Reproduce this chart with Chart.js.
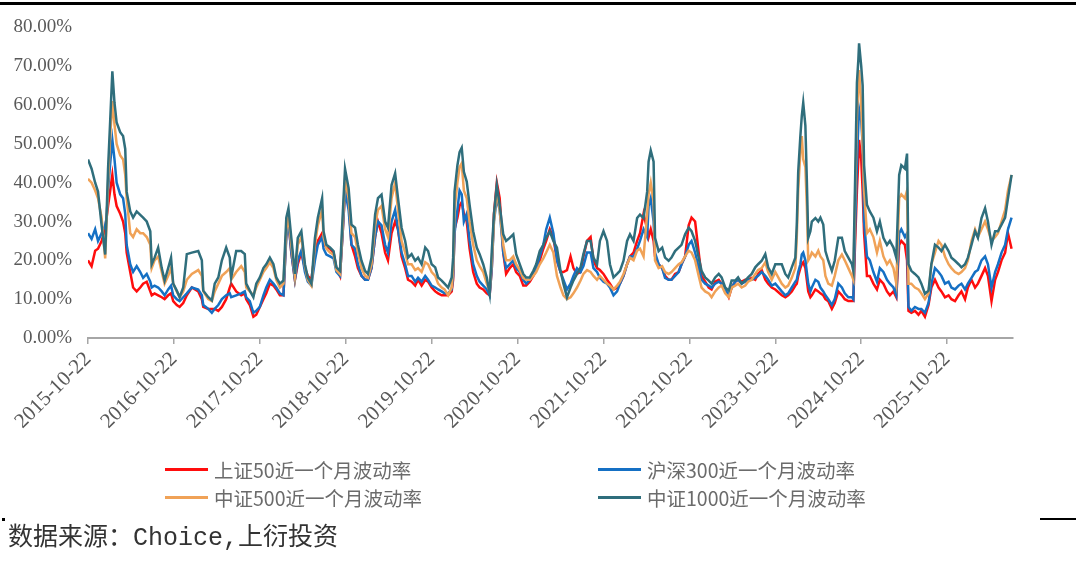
<!DOCTYPE html>
<html>
<head>
<meta charset="utf-8">
<script src="https://cdn.jsdelivr.net/npm/chart.js@4.4.0/dist/chart.umd.min.js"></script>
<style>
  html, body { margin: 0; padding: 0; background: #fff; }
  #wrap { position: relative; width: 1080px; height: 570px; overflow: hidden; }
  #myChart { position: absolute; left: 0; top: 0; }
  .topline { position: absolute; left: 0; top: 2px; width: 1076px; height: 3px; background: #000; }
  .dot { position: absolute; left: 2px; top: 518px; width: 3px; height: 3px; background: #000; }
  .endline { position: absolute; left: 1040px; top: 518px; width: 36px; height: 2px; background: #000; }
  #legend { position: absolute; left: 165px; top: 455px; width: 800px; }
  .item { position: absolute; height: 28px; display: flex; align-items: center; white-space: nowrap;
          font-family: "Noto Sans CJK SC", "Noto Sans", sans-serif; font-size: 19.5px; color: #6b6b6b; }
  .item span.swatch { display: inline-block; width: 43px; height: 3px; margin-right: 6px; }
  #source { position: absolute; left: 8px; top: 524px; font-family: "Liberation Mono", "Noto Sans CJK SC", monospace;
            font-size: 25px; color: #333; line-height: 30px; }
</style>
</head>
<body>
<div id="wrap">
  <div class="topline"></div>
  <canvas id="myChart" width="1080" height="570"></canvas>
  <div id="legend"></div>
  <div class="dot"></div>
  <div class="endline"></div>
  <div id="source">数据来源：Choice,上衍投资</div>
</div>
<script>
// months since 2015-10-22
var months = [
  0,0.5,1,1.4,1.9,2.4,2.6,2.8,3.1,3.4,3.7,4,4.5,4.9,5.2,5.4,5.9,6.3,6.8,7.3,7.7,8.2,8.7,8.9,9.3,9.8,10.3,10.7,11.2,11.6,
  11.9,12.4,12.8,13.3,13.8,14.5,15.4,15.9,16.1,16.8,17.3,17.7,18.2,18.7,19.3,19.8,20,20.7,21.4,21.9,22.1,22.6,23.1,23.5,24,
  24.5,24.9,25.4,25.9,26.3,26.8,27.3,27.7,28,28.4,28.9,29.3,29.8,30.3,30.7,31.2,31.7,32.1,32.7,
  32.9,33.3,33.8,34.3,34.7,35.2,35.6,35.9,36.4,36.8,37.3,37.7,38.2,38.7,39.1,39.6,40.1,40.5,41,41.5,41.9,42.4,42.9,43.3,43.8,
  44.3,44.7,45.2,45.7,46.1,46.6,47.1,47.5,48,48.5,48.9,49.4,49.8,50.3,50.8,51,51.2,51.6,51.9,52.2,52.5,52.9,53.3,53.8,54.3,
  54.7,55.2,55.7,56.1,56.4,56.7,57.1,57.5,58,58.4,58.9,59.4,59.8,60.3,60.8,61.2,61.7,62.2,62.6,63.1,63.6,64,64.5,65,
  65.5,66.0,66.4,66.9,67.4,67.8,68.3,68.8,69.2,69.7,70.2,70.6,71.1,71.5,72.0,72.5,72.9,73.4,73.9,74.3,74.8,75.3,75.7,76.2,76.7,
  77.1,77.6,78.1,78.3,78.6,79.0,79.2,79.7,80.2,80.6,81.1,81.5,82.0,82.5,82.9,83.4,83.9,84.3,84.8,85.3,85.7,86.2,86.7,87.1,87.6,
  88.1,88.5,89.0,89.5,89.9,90.4,90.8,91.3,91.8,92.2,92.7,93.2,93.6,94.1,94.6,95.0,95.5,96.0,
  96.9,97.4,97.8,98.3,98.8,99,99.2,99.5,99.7,99.9,100.2,100.4,100.6,100.9,101.1,101.6,102,102.3,102.7,103,103.4,103.9,104.3,104.8,105.3,
  105.7,106.2,106.7,106.9,107.1,107.4,107.6,107.7,108,108.2,108.4,108.8,109.2,109.7,110.2,110.6,111.1,111.6,112,112.5,112.9,113.3,113.6,114.1,114.4,
  114.6,115,115.5,116,116.4,116.9,117.4,117.8,118.3,118.8,119.2,119.7,120.2,120.6,121.1,121.6,122,122.5,122.9,123.4,123.9,124.3,124.8,125.3,125.7,
  126.2,126.7,127.1,127.6,128.1,128.5,129
];

// 上证50近一个月波动率 (%)
var sz50 = [
  20,18.5,22.5,23,25,28,31,34,38,42,37,34,32,30,27,22,17,13,12,13,14,14.5,12,11,11.5,11,10.5,10,11,11.5,
  9.5,8.5,8,9,11,13,12,10,8,7.5,7.5,7.5,7,8,10,13,14,12,11,11.5,10,8.5,5.5,6,8,
  10,11.5,14,13.5,12.5,11,11,27,30,22,15,19,22,18,16,15,22,25,27,
  24,23.5,23,22,18,16,28,38,35,24,21,18,16,15,15,18,26,30,27,22,20,27,30,28,21,
  18,15,14.5,13.5,15,13.5,15,14.5,13,12,11.5,11,11,11,12,15,28,31,34,35,32,30,23,17,14,
  13,12.5,11.5,11,18,32,40,36,22,16.5,18,19,17,16,13.5,13.5,14.5,16,17.5,20,23,25,28,26,
  20,17,17,17.5,21,18,16.5,17,21,25,26,20,18,17.5,16.5,15,14,12.5,13,14,16,19,21,22,25,
  27,32,28,26,28,25,21,19,18,16,15,15,16.5,17,19,21,29,31,30,22,16,14.5,13,12.5,14.5,
  15,14,12.5,10.5,13,14.5,15,14.5,15,15,15.5,15,16.5,17.5,15,14,13,12.5,
  11,10.5,11,12,13.5,14,16,18,19,19.5,18,15,12,10.5,11,12.5,12,11.5,11,10,9.5,7.5,9,12,11,
  10,9.5,9.5,9.5,22,38,46,51,46,38,27,16,16,14,12.5,15,14,12,11,12,10.5,24,25,24,20,
  7,6.5,7,6,7,5.5,8.5,13,15,13,12,10.5,11,10,9.5,11,12,10,13,15,13,14,16,18,16,
  9.5,15,17,20,22,27,23
];

// 沪深300近一个月波动率 (%)
var hs300 = [
  27,25.5,28,25,27,29,31,38,45,51,46,40,37,36,32,24,19,17,18.5,17,15.5,16.5,14.5,13,13.5,13,12,11,12.5,13.5,
  11,10,9.5,10.5,11.5,13,12.5,11,8.5,7.5,6.5,7.5,8.5,10,11,11.5,10.5,11,11.5,12,10.5,9.5,6.5,7,8,
  11,13,15,14,13,11.5,11,26,30,22,15,20,22.5,17,14.5,13.5,20,24,26,
  23,21.5,21,20.5,17,16,28,38,33,24,23,19,16,15,15,18,26,30,29,24,22,30,33,28,22,
  19,16,16,14.5,15.5,14.5,16,15,13.5,13,12.5,12,11.5,11.5,12.5,16,27,33,38,37,30,32,25,19,16,
  14.5,13.5,12.5,11,18,30,36,33,22,18,19,20,18,17,15,14,15,16.5,18,21,24,28,31,27,
  20,17,15,12.5,14,16,18,17,18.5,22,22,18,17,15.5,14.5,14,13,11,12,14,16,19,21,21,23,
  25,28,26,34,36,30,22,19,18,15.5,15,15,16,17,19,21,24,25,22,18,15,14,13.5,13,14,
  14.5,14,12.5,11,13,14.5,15,14,14.5,15,15,15.5,16,17,16,15,13.5,14,
  12,11,11.5,13,14.5,15,17,19,21.5,22,20,17,14,12,13,15,14.5,13,12,11,10,8.5,10,14,13,
  11.5,10.5,10.5,10,25,45,55,59,56,50,30,21,20,17,14.5,18,17,15,14,13,11,27,28,26,27,
  8,7,8,7.5,7.5,6.5,9,14,18,17,16,14,14.5,13,12.5,13.5,14,12.5,14,15.5,17,17.5,20,21,19,
  13,17,19,22,24,28,31
];

// 中证500近一个月波动率 (%)
var zz500 = [
  41,40,38,36,31,20.5,30,40,52,61,55,50,47,46,42,36,27,26,28,27,27,26,24,18,20,21,17,14,16,18,
  14,12,10.5,12,15,16.5,17.5,16,12,10,9.5,12,14,16,17,18,15,17,18.5,17,13,12,11,13,15,
  17,18,19.5,18,15,13,14,28,31,24,16,24,26,18.5,15,13.5,24,29,33,
  26,23,22,21.5,17.5,16.5,30,41,36,27,26,22,18,16,15.5,19,29,33,34,28,26,36,40,33,25,
  22,19,19,17.5,18,17,19.5,19,17,16,14,13,12.5,11,13,18,33,40,44,45,38,36,30,24,20,
  18.5,17,14,12,20,30,38,33,24,20,20,21,19,17.5,15.5,15,15,16,17,19,20.5,22,24,22,
  16,13,11,10,10.5,11.5,13,14.8,16.5,17.5,17,16,15,16,15,14,13.5,12.5,13.5,14.5,16.5,19,20.7,20,22.5,
  23,21,32,37,40,35,20,18,18.5,17,16.5,17,18,19,19.5,21,22.5,22,20,16,13,12,11.5,10.5,12,
  13,13.5,11.5,10.5,13,13.5,14,13,13.5,14.5,15,16.5,17.5,18,19.5,17,15,17,
  14,13,13.5,15.5,18,26,38,48,52,46,44,34,20,21,22,21,22.5,21,20,16,14,13.5,16,20,21.5,
  20,18,16,15,32,57,66,69,60,50,38,27,28,26,22,25,21,19,20,18,14,36,37,36,38,
  14,14,13,12.5,11.5,10,11.5,19,22,25,24,21,19,18,17,16.5,17,18,20,25,28,26,28,30,28,
  25,26,27,30,33,38,42
];

// 中证1000近一个月波动率 (%)
var zz1000 = [
  46,43.6,40,37.7,29,21.5,32,43.6,56,68.7,60.6,55.5,53,52,48.7,37.7,32.6,31,32.6,31.7,31,30,27.5,19,20.7,23.3,18,14.8,18,20.7,
  14,12.2,10.5,13,21.6,22,22.4,20,12.2,10.5,9.7,14,15.6,20,23.3,20.7,15.6,22.4,22.4,21.6,14,12.2,10.5,14,15.6,
  18,19,20.7,19,15.6,14,14.8,31,33.4,25.8,16.5,25.8,27.5,19,15.6,14,25.8,31,36,
  27.5,24,23.3,22.4,18.2,17.3,32.6,43.6,38.6,29.2,28.4,24,19.9,17.3,16.5,20.7,31.8,36,36.9,30,28.4,39.4,42.4,36,28.4,
  25,20.7,21.6,19.9,20.7,19,23.3,22.4,19,18.2,15.6,14.8,14,13,15.6,20.7,37.7,44.5,47.9,49,42.8,40.3,34.3,27.5,23.3,
  21.6,19,15.6,11.4,22.4,31.8,39.4,34.3,26.7,25,25.8,26.7,21.6,19,16.5,15.6,15.6,17.3,19,22.4,24,25.8,27.5,25,
  23.3,17.3,14,10.5,13,14.8,16.5,18.2,21.6,25,25,20.7,19,25,27.5,25,19,15.6,16.5,17.3,19.9,25,26.7,25,30.9,
  31.8,30.9,37.7,45.4,48.3,45.4,25.8,22.4,23.3,20.7,19.9,20.7,22.4,23.3,24,26.7,28.4,27.5,25,20.7,17.3,15.6,14.8,14,15.6,
  16.5,15.6,13,12.2,14.8,14.8,15.6,14,14.8,15.6,16.5,18.2,19,19.9,21.6,18.2,16.5,19,
  19,16.5,15.6,18.2,20.7,29.2,42.8,52,57.2,60.6,54.7,41,25.8,27.5,30,30.9,30,31,29.2,22.4,19.9,17.3,19.9,25.8,25.8,
  22.4,20.7,19,17.3,36,65.7,71.7,75.9,70,65,44.5,34.3,32.6,31,27.5,30,25.8,24,25,23.3,20.7,42,44.5,43.6,47.5,
  19,17.3,16.5,15.6,14,11.4,12.2,19,24,23.3,22.4,24,22.4,20.7,19.9,19,18.2,19,20.7,24,27.5,25.8,30.9,33.4,30,
  24,27.5,27.5,29.2,31,36,42
];

var tickLabels = ['2015-10-22','2016-10-22','2017-10-22','2018-10-22','2019-10-22','2020-10-22',
                  '2021-10-22','2022-10-22','2023-10-22','2024-10-22','2025-10-22'];

var seriesNames = ['上证50近一个月波动率','沪深300近一个月波动率','中证500近一个月波动率','中证1000近一个月波动率'];
var seriesColors = ['#ff0d0d','#1570c4','#f0a257','#2f6e7c'];
var seriesData = [sz50, hs300, zz500, zz1000];

function points(values) {
  return months.map(function(m, i){ return {x: m, y: values[i]}; });
}

var datasets = seriesData.map(function(vals, i){
  return {
    label: seriesNames[i],
    data: points(vals),
    borderColor: seriesColors[i],
    backgroundColor: seriesColors[i],
    borderWidth: 2.5,
    pointRadius: 0,
    tension: 0,
    order: 3 - i
  };
});

var ctx = document.getElementById('myChart').getContext('2d');
var myChart = new Chart(ctx, {
  type: 'line',
  data: { datasets: datasets },
  options: {
    responsive: false,
    animation: false,
    layout: { padding: { top: 24, right: 67, left: 0, bottom: 0 } },
    plugins: { legend: { display: false }, tooltip: { enabled: false } },
    scales: {
      x: {
        type: 'linear',
        min: 0,
        max: 129.2,
        afterFit: function(scale){ scale.height = 232; },
        afterBuildTicks: function(scale){
          scale.ticks = tickLabels.map(function(l, i){ return {value: i * 12}; });
        },
        border: { display: true, color: '#a6a6a6', width: 2 },
        grid: { display: true, drawOnChartArea: false, drawTicks: true, tickLength: 6, color: '#a6a6a6', lineWidth: 1.5 },
        ticks: {
          autoSkip: false,
          maxRotation: 45,
          minRotation: 45,
          padding: 3,
          color: '#595959',
          font: { family: 'Liberation Serif', size: 21 },
          callback: function(v){ return tickLabels[Math.round(v / 12)]; }
        }
      },
      y: {
        min: 0,
        max: 80,
        afterFit: function(scale){ scale.width = 88; },
        border: { display: false },
        grid: { display: false, drawTicks: false },
        ticks: {
          stepSize: 10,
          padding: 16,
          color: '#595959',
          font: { family: 'Liberation Serif', size: 19 },
          callback: function(v){ return v.toFixed(2) + '%'; }
        }
      }
    }
  }
});

// legend in two columns
var legend = document.getElementById('legend');
datasets.forEach(function(ds, i){
  var item = document.createElement('div');
  item.className = 'item';
  item.style.left = (i % 2 === 0 ? 0 : 433) + 'px';
  item.style.top = (Math.floor(i / 2) * 28) + 'px';
  item.innerHTML = '<span class="swatch" style="background:' + ds.borderColor + '"></span>' + ds.label;
  legend.appendChild(item);
});
</script>
</body>
</html>
